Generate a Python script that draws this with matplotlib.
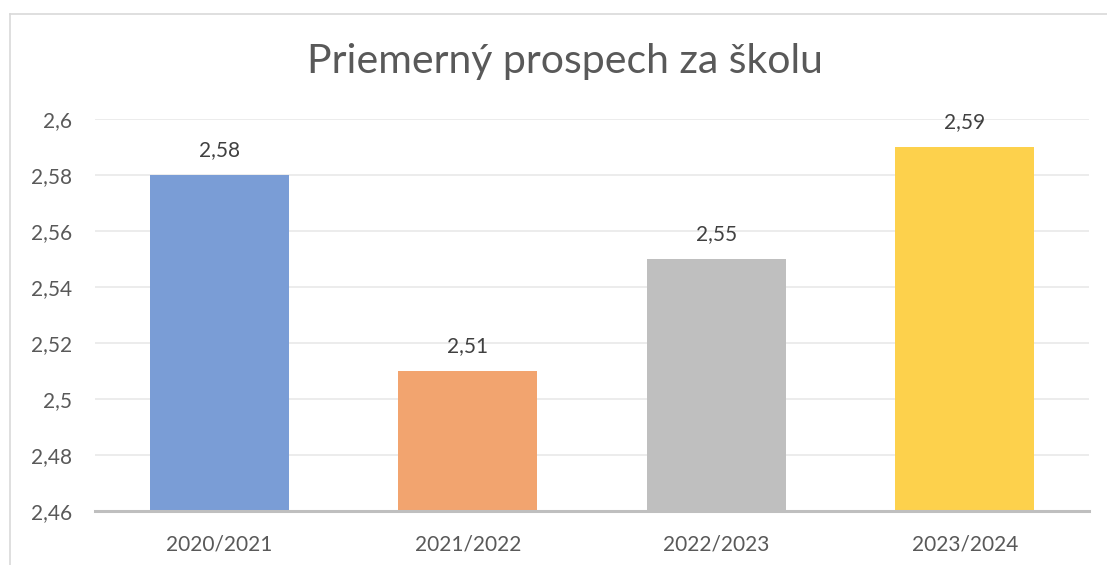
"""
Priemerný prospech za školu - bar chart
"""

import matplotlib.pyplot as plt
from matplotlib.lines import Line2D
from matplotlib.ticker import FuncFormatter

years = ["2020/2021", "2021/2022", "2022/2023", "2023/2024"]
avg_grade = [2.58, 2.51, 2.55, 2.59]
bar_colors = ["#7A9DD6", "#F2A46F", "#BFBFBF", "#FDD14C"]
y_ticks = [2.46, 2.48, 2.50, 2.52, 2.54, 2.56, 2.58, 2.60]

text_color = "#595959"
plt.rcParams["font.family"] = ["Lato", "DejaVu Sans"]


def comma(v, _pos=None) -> str:
    s = f"{v:.2f}".rstrip("0").rstrip(".")
    return s.replace(".", ",")


def plot_data() -> None:
    fig = plt.figure(figsize=(11.07, 5.65), dpi=100)
    W, H = 1107, 565

    ax = fig.add_axes([95 / W, 1 - 511 / H, (1089 - 95) / W, (511 - 119) / H])
    x = range(len(years))
    ax.bar(x, avg_grade, width=0.56, color=bar_colors, zorder=2)
    for xi, v in zip(x, avg_grade):
        ax.annotate(comma(v), (xi, v), xytext=(0, 18), textcoords="offset points",
                    ha="center", va="center", fontsize=15, color="#404040")

    ax.set_ylim(2.46, 2.60)
    ax.set_xlim(-0.5, len(years) - 0.5)
    ax.set_yticks(y_ticks)
    ax.yaxis.set_major_formatter(FuncFormatter(comma))
    ax.set_xticks(list(x))
    ax.set_xticklabels(years)
    ax.tick_params(axis="both", length=0, labelsize=15, colors=text_color)
    ax.tick_params(axis="y", pad=16.5)
    ax.tick_params(axis="x", pad=17)
    ax.grid(axis="y", color="#EBEBEB", linewidth=1.3, zorder=0)
    for side in ["top", "right", "left"]:
        ax.spines[side].set_visible(False)
    ax.spines["bottom"].set_color("#BFBFBF")
    ax.spines["bottom"].set_linewidth(2.2)
    ax.spines["bottom"].set_zorder(3)

    fig.text(565 / W, 1 - 62 / H, "Priemerný prospech za školu", ha="center",
             va="center", fontsize=29.5, color=text_color)

    # chart frame (cropped at right and bottom)
    fig.add_artist(Line2D([10 / W, 10 / W], [0, 1 - 14 / H], color="#D9D9D9",
                          linewidth=1.2, transform=fig.transFigure))
    fig.add_artist(Line2D([10 / W, 1], [1 - 14 / H, 1 - 14 / H], color="#D9D9D9",
                          linewidth=1.2, transform=fig.transFigure))

    fig.savefig("out.png", dpi=100)


if __name__ == "__main__":
    plot_data()
